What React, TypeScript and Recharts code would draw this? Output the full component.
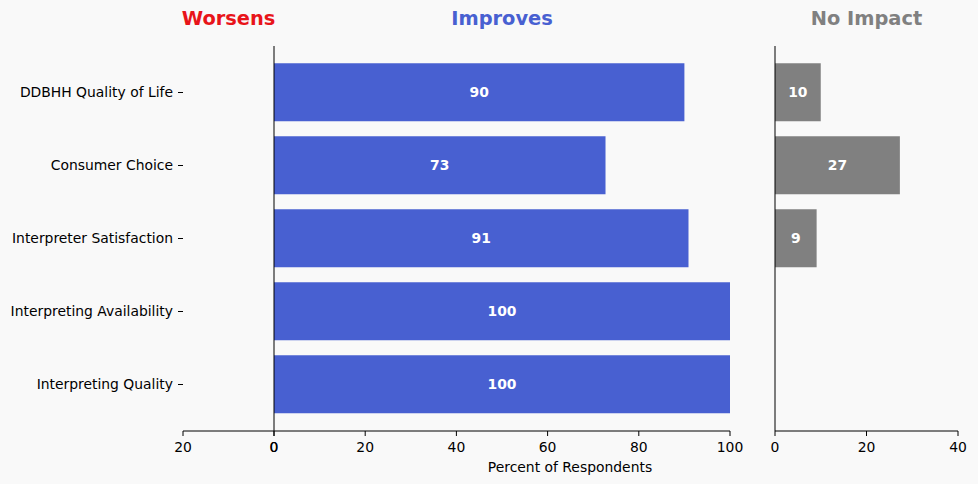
import React from 'react';
import { BarChart, Bar, XAxis, YAxis, LabelList } from 'recharts';

const categories = [
  'DDBHH Quality of Life',
  'Consumer Choice',
  'Interpreter Satisfaction',
  'Interpreting Availability',
  'Interpreting Quality',
];
const worsens = [0, 0, 0, 0, 0];
const improves = [90, 72.7, 90.9, 100, 100];
const noImpact = [10, 27.3, 9.1, 0, 0];

const worsensTicks = [0, 20];
const improvesTicks = [0, 20, 40, 60, 80, 100];
const noImpactTicks = [0, 20, 40];

const data = categories.map((name, i) => ({
  name,
  worsens: worsens[i],
  improves: improves[i],
  noImpact: noImpact[i],
}));

const FONT = '"DejaVu Sans", sans-serif';
const BLUE = '#4860d1';
const GREY = '#808080';
const RED = '#e8141a';
const BG = '#f9f9f9';

const H = 484;
const TOP = 46;
const XAXIS_H = 53;
const tickStyle = { fill: '#000', fontSize: 13.9, fontFamily: FONT };
const labelFmt = (v: any) => (Number(v) > 0 ? String(Math.round(Number(v))) : '');

function Title({ text, color, center }: { text: string; color: string; center: number }) {
  return (
    <div
      style={{
        position: 'absolute',
        left: center - 100,
        width: 200,
        top: 0,
        height: 38,
        lineHeight: '38px',
        textAlign: 'center',
        color,
        fontWeight: 'bold',
        fontSize: 19.4,
        fontFamily: FONT,
      }}
    >
      {text}
    </div>
  );
}

function panelYAxis(showLabels: boolean) {
  return showLabels ? (
    <YAxis
      type="category"
      dataKey="name"
      width={183}
      axisLine={false}
      tickLine={{ stroke: '#000' }}
      tickSize={5}
      tickMargin={5}
      tick={tickStyle}
      padding={{ top: 10, bottom: 10 }}
      interval={0}
    />
  ) : (
    <YAxis
      type="category"
      dataKey="name"
      width={1}
      axisLine={{ stroke: '#000' }}
      tickLine={false}
      tick={false}
      padding={{ top: 10, bottom: 10 }}
    />
  );
}

export default function App() {
  return (
    <div
      style={{
        position: 'fixed',
        left: 0,
        top: 0,
        width: 978,
        height: H,
        background: BG,
        overflow: 'hidden',
      }}
    >
      {/* Worsens panel, carries the category labels */}
      <div style={{ position: 'absolute', left: 0, top: 0 }}>
        <BarChart
          width={290}
          height={H}
          data={data}
          layout="vertical"
          barCategoryGap="10%"
          margin={{ top: TOP, right: 16, bottom: 0, left: 0 }}
        >
          <XAxis
            type="number"
            domain={[0, 20]}
            ticks={worsensTicks}
            reversed
            height={XAXIS_H}
            axisLine={{ stroke: '#000' }}
            tickLine={{ stroke: '#000' }}
            tickSize={5}
            tickMargin={6}
            tick={tickStyle}
          />
          {panelYAxis(true)}
          <Bar dataKey="worsens" fill={RED} isAnimationActive={false} />
        </BarChart>
      </div>

      {/* Improves panel */}
      <div style={{ position: 'absolute', left: 254, top: 0 }}>
        <BarChart
          width={496}
          height={H}
          data={data}
          layout="vertical"
          barCategoryGap="10%"
          margin={{ top: TOP, right: 20, bottom: 0, left: 19 }}
        >
          <XAxis
            type="number"
            domain={[0, 100]}
            ticks={improvesTicks}
            height={XAXIS_H}
            axisLine={{ stroke: '#000' }}
            tickLine={{ stroke: '#000' }}
            tickSize={5}
            tickMargin={6}
            tick={tickStyle}
          />
          {panelYAxis(false)}
          <Bar dataKey="improves" fill={BLUE} isAnimationActive={false}>
            <LabelList
              dataKey="improves"
              position="center"
              formatter={labelFmt}
              fill="#fff"
              fontWeight="bold"
              fontSize={13.9}
              fontFamily={FONT}
            />
          </Bar>
        </BarChart>
      </div>

      {/* No Impact panel */}
      <div style={{ position: 'absolute', left: 755, top: 0 }}>
        <BarChart
          width={223}
          height={H}
          data={data}
          layout="vertical"
          barCategoryGap="10%"
          margin={{ top: TOP, right: 20, bottom: 0, left: 19 }}
        >
          <XAxis
            type="number"
            domain={[0, 40]}
            ticks={noImpactTicks}
            height={XAXIS_H}
            axisLine={{ stroke: '#000' }}
            tickLine={{ stroke: '#000' }}
            tickSize={5}
            tickMargin={6}
            tick={tickStyle}
          />
          {panelYAxis(false)}
          <Bar dataKey="noImpact" fill={GREY} isAnimationActive={false}>
            <LabelList
              dataKey="noImpact"
              position="center"
              formatter={labelFmt}
              fill="#fff"
              fontWeight="bold"
              fontSize={13.9}
              fontFamily={FONT}
            />
          </Bar>
        </BarChart>
      </div>

      <Title text="Worsens" color={RED} center={228.5} />
      <Title text="Improves" color={BLUE} center={502} />
      <Title text="No Impact" color={GREY} center={866.5} />

      <div
        style={{
          position: 'absolute',
          left: 370,
          width: 400,
          top: 457,
          height: 20,
          lineHeight: '20px',
          textAlign: 'center',
          fontSize: 13.9,
          fontFamily: FONT,
          color: '#000',
        }}
      >
        Percent of Respondents
      </div>
    </div>
  );
}
